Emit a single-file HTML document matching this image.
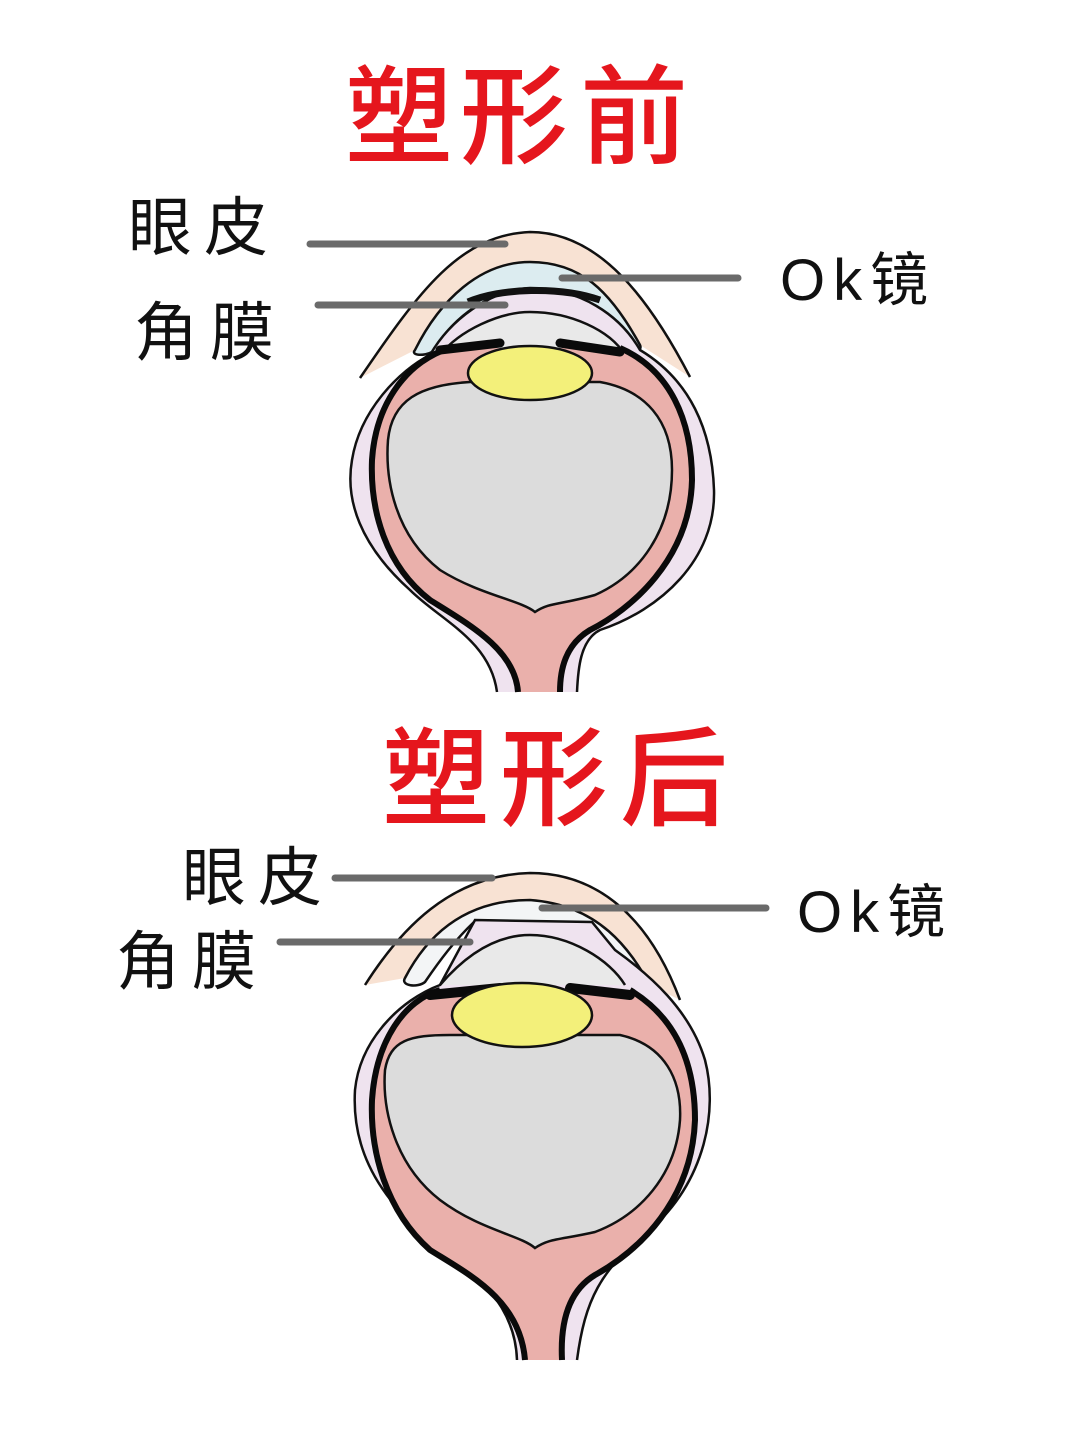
<!DOCTYPE html>
<html><head><meta charset="utf-8"><style>
html,body{margin:0;padding:0;background:#fff;}
svg{display:block;}
.t{font-family:"Liberation Sans","Noto Sans CJK SC",sans-serif;fill:#e5161d;font-weight:500;font-size:108px;}
.l{font-family:"Liberation Sans","Noto Sans CJK SC",sans-serif;fill:#111;font-size:64px;letter-spacing:12px;}
.k{font-family:"Liberation Sans","Noto Sans CJK SC",sans-serif;fill:#111;font-size:58px;letter-spacing:8px;}
.ln{stroke:#6a6a6a;stroke-width:7;stroke-linecap:round;}
.o{stroke:#111;stroke-width:2.5;fill:none;}
</style></head><body>
<svg width="1080" height="1430" viewBox="0 0 1080 1430" xmlns="http://www.w3.org/2000/svg">
<rect width="1080" height="1430" fill="#fff"/>
<text class="t" x="345" y="155">塑</text>
<text class="t" x="460" y="155">形</text>
<text class="t" x="580" y="155">前</text>
<text class="t" x="382" y="817">塑</text>
<text class="t" x="500" y="817">形</text>
<text class="t" x="620" y="817">后</text>

<!-- ===== TOP EYE ===== -->
<path d="M360,378 C420,290 460,235 530,232 C600,232 650,300 690,377 L640,345 C610,290 580,262 530,262 C480,262 440,300 415,350 Z" fill="#f8e2d3"/>
<path class="o" d="M360,378 C420,290 460,235 530,232 C600,232 650,300 690,377"/>
<path d="M415,350 C440,300 480,262 530,262 C580,262 610,290 640,345 C643,352 632,352 625,348 C600,310 570,290 530,290 C490,290 455,315 432,352 C425,356 410,356 415,350 Z" fill="#dcecf0" stroke="#111" stroke-width="2.5"/>
<path d="M497,692 C490,640 440,620 410,590 C360,545 345,500 352,460 C360,410 400,370 430,355 C450,320 490,290 530,288 C580,288 620,315 640,350 C690,380 712,430 714,490 C716,560 660,610 600,630 C580,640 578,670 577,692 Z" fill="#efe3ef"/>
<path class="o" d="M497,692 C490,640 440,620 410,590 C360,545 345,500 352,460 C360,410 400,370 430,355 C450,320 490,290 530,288 C580,288 620,315 640,350 C690,380 712,430 714,490 C716,560 660,610 600,630 C580,640 578,670 577,692"/>
<path d="M468,302 C500,288 560,286 600,300" stroke="#111" stroke-width="7" fill="none"/>
<path d="M440,355 C460,330 500,312 530,312 C570,312 610,330 625,355 Z" fill="#e9e9e9"/>
<path class="o" d="M440,355 C460,330 500,312 530,312 C570,312 610,330 625,355"/>
<path d="M518,692 C515,650 470,625 430,600 C385,565 370,510 372,460 C376,400 410,360 450,348 L620,348 C670,370 692,420 692,480 C690,560 630,610 590,630 C565,645 560,670 560,692 Z" fill="#eab0ab"/>
<path d="M518,692 C515,650 470,625 430,600 C385,565 370,510 372,460 C376,400 410,360 450,348" stroke="#0a0a0a" stroke-width="6" fill="none"/>
<path d="M620,348 C670,370 692,420 692,480 C690,560 630,610 590,630 C565,645 560,670 560,692" stroke="#0a0a0a" stroke-width="6" fill="none"/>
<path d="M440,350 L500,343 M560,343 L620,352" stroke="#0a0a0a" stroke-width="9" stroke-linecap="round"/>
<path d="M535,612 C520,600 480,595 440,570 C395,535 385,480 388,440 C392,400 420,385 470,382 L600,382 C645,390 672,420 672,470 C672,530 640,575 595,595 C560,605 550,602 535,612 Z" fill="#dcdcdc" stroke="#111" stroke-width="2.5"/>
<ellipse cx="530" cy="373" rx="62" ry="27" fill="#f3f07a" stroke="#111" stroke-width="2.5"/>

<!-- ===== BOTTOM EYE ===== -->
<path d="M365,985 C400,930 450,875 530,873 C600,873 650,920 680,1000 L650,985 C630,950 600,905 530,900 C470,900 430,930 405,978 Z" fill="#f8e2d3"/>
<path class="o" d="M365,985 C400,930 450,875 530,873 C600,873 650,920 680,1000"/>
<path d="M405,978 C430,930 470,900 530,900 C600,905 630,950 650,985 C652,994 640,994 632,988 C615,960 600,940 590,925 L474,922 C455,940 440,960 425,982 C418,988 400,986 405,978 Z" fill="#f3f5f6" stroke="#111" stroke-width="2.5"/>
<path d="M517,1360 C515,1300 470,1270 430,1240 C370,1190 352,1140 355,1090 C360,1040 400,1000 440,985 L475,920 L592,922 L615,950 C650,975 690,1010 705,1060 C718,1110 706,1180 650,1230 C600,1270 585,1300 577,1360 Z" fill="#efe3ef"/>
<path class="o" d="M517,1360 C515,1300 470,1270 430,1240 C370,1190 352,1140 355,1090 C360,1040 400,1000 440,985 L475,920 L592,922 L615,950 C650,975 690,1010 705,1060 C718,1110 706,1180 650,1230 C600,1270 585,1300 577,1360"/>
<path d="M440,985 C470,950 500,935 530,935 C570,935 610,960 625,985 Z" fill="#e9e9e9"/>
<path class="o" d="M440,985 C470,950 500,935 530,935 C570,935 610,960 625,985"/>
<path d="M525,1360 C520,1300 470,1275 430,1250 C385,1210 370,1150 372,1100 C376,1040 405,1000 440,990 L630,990 C680,1020 695,1070 695,1120 C692,1200 640,1250 595,1275 C570,1290 560,1320 562,1360 Z" fill="#eab0ab"/>
<path d="M525,1360 C520,1300 470,1275 430,1250 C385,1210 370,1150 372,1100 C376,1040 405,1000 440,990" stroke="#0a0a0a" stroke-width="6" fill="none"/>
<path d="M630,990 C680,1020 695,1070 695,1120 C692,1200 640,1250 595,1275 C570,1290 560,1320 562,1360" stroke="#0a0a0a" stroke-width="6" fill="none"/>
<path d="M430,995 L500,988 M570,988 L630,995" stroke="#0a0a0a" stroke-width="10" stroke-linecap="round"/>
<path d="M535,1248 C520,1235 480,1230 440,1200 C395,1165 382,1110 385,1070 C390,1040 410,1035 450,1035 L620,1035 C665,1045 682,1080 680,1120 C676,1175 640,1215 595,1232 C560,1240 550,1238 535,1248 Z" fill="#dcdcdc" stroke="#111" stroke-width="2.5"/>
<ellipse cx="522" cy="1015" rx="70" ry="32" fill="#f3f07a" stroke="#111" stroke-width="2.5"/>

<text class="l" x="128" y="250">眼皮</text>
<text class="l" x="134" y="355">角膜</text>
<text class="k" x="780" y="300">Ok镜</text>
<line class="ln" x1="310" y1="244" x2="505" y2="244"/>
<line class="ln" x1="318" y1="305" x2="505" y2="305"/>
<line class="ln" x1="562" y1="278" x2="738" y2="278"/>
<text class="l" x="182" y="900">眼皮</text>
<text class="l" x="116" y="984">角膜</text>
<text class="k" x="797" y="932">Ok镜</text>
<line class="ln" x1="335" y1="878" x2="492" y2="878"/>
<line class="ln" x1="280" y1="942" x2="470" y2="942"/>
<line class="ln" x1="542" y1="908" x2="766" y2="908"/>
</svg>
</body></html>
